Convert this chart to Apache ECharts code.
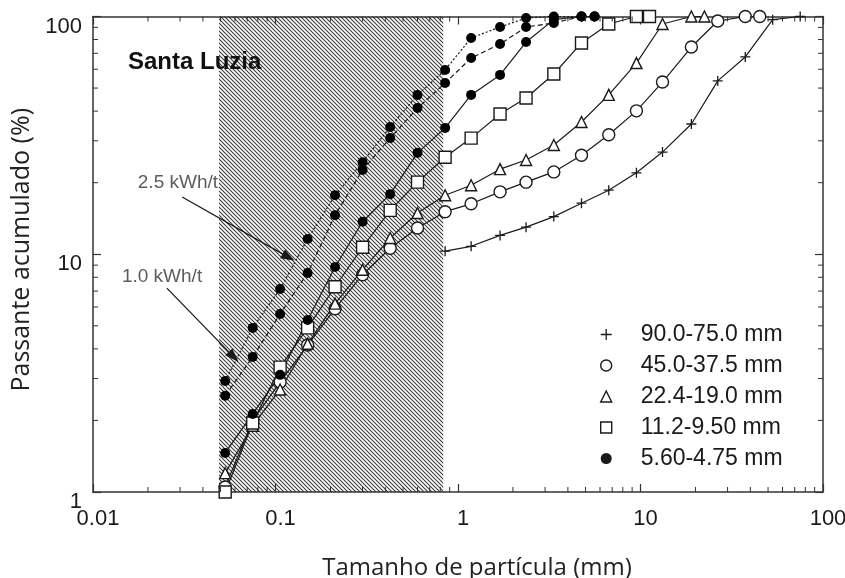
<!DOCTYPE html>
<html><head><meta charset="utf-8">
<script src="https://cdn.jsdelivr.net/npm/echarts@6/dist/echarts.min.js"></script>
<style>html,body{margin:0;padding:0;background:#fff}#c{width:845px;height:578px}</style>
</head><body><div id="c"></div>
<script>
// ---- data (particle size in mm, cumulative passing in %) ----
const plusX = [0.85,1.18,1.7,2.36,3.35,4.75,6.7,9.5,13.2,19.0,26.5,37.5,53.0,75.0];
const plusY = [10.3,10.8,12.0,13.0,14.4,16.4,18.6,22.0,26.9,35.3,53.6,67.6,97,100];

const circX = [0.053,0.075,0.106,0.15,0.212,0.3,0.425,0.6,0.85,1.18,1.7,2.36,3.35,4.75,6.7,9.5,13.2,19.0,26.5,37.5,45.0];
const circY = [1.05,2.0,2.9,4.15,5.9,8.2,10.6,12.9,15.1,16.3,18.3,20.1,22.2,26.1,31.8,40.1,53.0,74.4,95.7,100,100];

const triX = [0.053,0.075,0.106,0.15,0.212,0.3,0.425,0.6,0.85,1.18,1.7,2.36,3.35,4.75,6.7,9.5,13.2,19.0,22.4];
const triY = [1.2,1.9,2.7,4.2,6.2,8.6,11.7,14.9,17.7,19.5,22.8,24.9,28.8,36.0,46.8,63.7,93,100,100];

const sqX = [0.053,0.075,0.106,0.15,0.212,0.3,0.425,0.6,0.85,1.18,1.7,2.36,3.35,4.75,6.7,9.5,11.2];
const sqY = [1.0,1.95,3.35,4.9,7.3,10.7,15.3,20.1,25.6,30.8,38.9,45.4,57.3,77.4,93,100,100];

const dotX = [0.053,0.075,0.106,0.15,0.212,0.3,0.425,0.6,0.85,1.18,1.7,2.36,3.35,4.75,5.6];
const dotY0 = [1.46,2.13,3.11,5.29,8.84,13.7,17.9,26.7,34.0,46.8,56.8,78.1,97,100,100];   // solid line
const dotY10 = [2.54,3.70,5.61,8.34,14.6,22.6,30.8,41.2,52.5,66.9,76.6,90.3,94,100,100]; // 1.0 kWh/t
const dotY25 = [2.93,4.90,7.14,11.6,17.7,24.4,34.3,46.8,59.6,81.2,90.3,98.5,100,100,100]; // 2.5 kWh/t

const legendNames = ['90.0-75.0 mm','45.0-37.5 mm','22.4-19.0 mm','11.2-9.50 mm','5.60-4.75 mm'];
const xTickLabels = ['0.01','0.1','1','10','100'];
const yTickLabels = ['1','10','100'];
const xMinorTicks = [0.02,0.03,0.04,0.05,0.06,0.07,0.08,0.09,0.2,0.3,0.4,0.5,0.6,0.7,0.8,0.9,2,3,4,5,6,7,8,9,20,30,40,50,60,70,80,90];
const yMinorTicks = [2,3,4,5,6,7,8,9,20,30,40,50,60,70,80,90];
const hatchRange = [0.049, 0.83];

const X_MIN = 0.01, X_MAX = 100, Y_MIN = 1, Y_MAX = 100;
const zip = (a, b) => a.map((v, i) => [v, b[i]]);

// hatch pattern
const pc = document.createElement('canvas');
pc.width = 4; pc.height = 4;
const cx = pc.getContext('2d');
cx.fillStyle = '#ffffff'; cx.fillRect(0, 0, 4, 4);
cx.strokeStyle = '#3c3c3c'; cx.lineWidth = 1.1;
cx.beginPath();
cx.moveTo(-1, -1); cx.lineTo(5, 5);
cx.moveTo(3, -1); cx.lineTo(5, 1);
cx.moveTo(-1, 3); cx.lineTo(1, 5);
cx.stroke();

const INK = '#1a1a1a';
const FONT = 'Liberation Sans';
const hollow = { color: '#fff', borderColor: INK, borderWidth: 1.4 };
const plusPath = 'path://M0,5L10,5M5,0L5,10';

function baseAxis(type, pos, show) {
  return {
    type: 'log', logBase: 10, position: pos,
    min: type === 'x' ? X_MIN : Y_MIN, max: type === 'x' ? X_MAX : Y_MAX,
    axisLine: { show: true, onZero: false, lineStyle: { color: '#333', width: 1.5 } },
    axisTick: { show: true, inside: true, length: 8, lineStyle: { color: '#333', width: 1.2 } },
    splitLine: { show: false },
    minorTick: { show: false },
    axisLabel: { show: show }
  };
}

const xBottom = Object.assign(baseAxis('x', 'bottom', true), {
  axisLabel: { show: true, fontFamily: FONT, fontSize: 22, color: INK, margin: 16, padding: [0, 0, 0, 10],
    formatter: v => xTickLabels[Math.round(Math.log10(v)) + 2] },
  name: 'Tamanho de partícula (mm)', nameLocation: 'middle', nameGap: 64,
  nameTextStyle: { fontFamily: 'Open Sans', fontSize: 24, color: '#222', padding: [0, 0, 0, 38] }
});
const xTop = baseAxis('x', 'top', false);
const yLeft = Object.assign(baseAxis('y', 'left', true), {
  axisLabel: { show: true, fontFamily: FONT, fontSize: 22, color: INK, margin: 11,
    verticalAlign: 'top', lineHeight: 20,
    formatter: v => yTickLabels[Math.round(Math.log10(v))] }
});
const yRight = baseAxis('y', 'right', false);

function lineSeries(name, x, y, symbol, size, itemStyle, lineType) {
  return {
    name: name, type: 'line', data: zip(x, y), symbol: symbol, symbolSize: size,
    itemStyle: itemStyle, lineStyle: { color: INK, width: 1.2, type: lineType || 'solid' },
    clip: false, z: 4, emphasis: { disabled: true }
  };
}

const tickStyle = { stroke: '#333', lineWidth: 1 };

const option = {
  animation: false,
  title: {
    text: 'Santa Luzia', left: 123, top: 45,
    textStyle: { fontFamily: FONT, fontSize: 24, fontWeight: 'bold', color: '#111' }
  },
  graphic: [{
    type: 'text', left: 9, top: 108, rotation: Math.PI / 2, silent: true,
    style: { text: 'Passante acumulado (%)', font: '25px "Open Sans"', fill: '#222' }
  }],
  grid: { left: 93, right: 22, top: 16.5, bottom: 86, containLabel: false, outerBoundsMode: 'none' },
  xAxis: [xBottom, xTop],
  yAxis: [yLeft, yRight],
  legend: {
    orient: 'vertical', left: 595, top: 318, itemWidth: 11, itemHeight: 11, itemGap: 8,
    textStyle: { fontFamily: FONT, fontSize: 23, color: INK, lineHeight: 23, padding: [0, 0, 0, 24] },
    selectedMode: false,
    data: [
      { name: legendNames[0], icon: plusPath, itemStyle: { color: 'transparent', borderColor: INK, borderWidth: 1.3 } },
      { name: legendNames[1], icon: 'circle', itemStyle: { color: '#fff', borderColor: INK, borderWidth: 1.4 } },
      { name: legendNames[2], icon: 'triangle', itemStyle: { color: '#fff', borderColor: INK, borderWidth: 1.4 } },
      { name: legendNames[3], icon: 'rect', itemStyle: { color: '#fff', borderColor: INK, borderWidth: 1.4 } },
      { name: legendNames[4], icon: 'circle', itemStyle: { color: INK } }
    ]
  },
  series: [
    { // hatched band
      name: 'band', type: 'line', data: [], z: 0, silent: true,
      markArea: { silent: true, z: 0, itemStyle: { color: { image: pc, repeat: 'repeat' } },
        data: [[{ xAxis: hatchRange[0] }, { xAxis: hatchRange[1] }]] }
    },
    lineSeries(legendNames[0], plusX, plusY, plusPath, 10, { color: 'transparent', borderColor: INK, borderWidth: 1.3 }),
    lineSeries(legendNames[1], circX, circY, 'circle', 12, hollow),
    lineSeries(legendNames[2], triX, triY, 'triangle', 11, hollow),
    lineSeries(legendNames[3], sqX, sqY, 'rect', 12, hollow),
    lineSeries(legendNames[4], dotX, dotY0, 'circle', 10, { color: '#000' }),
    lineSeries('1.0 kWh/t', dotX, dotY10, 'circle', 10, { color: '#000' }, [5, 3]),
    lineSeries('2.5 kWh/t', dotX, dotY25, 'circle', 10, { color: '#000' }, [2, 2]),
    { // minor ticks on x (bottom & top)
      name: 'xminor', type: 'custom', silent: true, clip: false, z: 6,
      data: xMinorTicks.map(v => [v, Y_MIN]),
      renderItem: (p, api) => {
        const b = api.coord([api.value(0), Y_MIN]);
        const t = api.coord([api.value(0), Y_MAX]);
        return { type: 'group', children: [
          { type: 'line', shape: { x1: b[0], y1: b[1], x2: b[0], y2: b[1] - 5 }, style: tickStyle },
          { type: 'line', shape: { x1: t[0], y1: t[1], x2: t[0], y2: t[1] + 5 }, style: tickStyle }
        ] };
      }
    },
    { // minor ticks on y (left & right)
      name: 'yminor', type: 'custom', silent: true, clip: false, z: 6,
      data: yMinorTicks.map(v => [X_MIN, v]),
      renderItem: (p, api) => {
        const l = api.coord([X_MIN, api.value(1)]);
        const r = api.coord([X_MAX, api.value(1)]);
        return { type: 'group', children: [
          { type: 'line', shape: { x1: l[0], y1: l[1], x2: l[0] + 5, y2: l[1] }, style: tickStyle },
          { type: 'line', shape: { x1: r[0], y1: r[1], x2: r[0] - 5, y2: r[1] }, style: tickStyle }
        ] };
      }
    },
    { // annotations
      name: 'notes', type: 'scatter', z: 8, silent: true, symbolSize: 1,
      itemStyle: { color: 'transparent' },
      data: [
        { value: [0.0292, 19.9], label: { show: true, position: 'inside', formatter: '2.5 kWh/t',
            fontFamily: FONT, fontSize: 19, color: '#333' } },
        { value: [0.0239, 8.02], label: { show: true, position: 'inside', formatter: '1.0 kWh/t',
            fontFamily: FONT, fontSize: 19, color: '#333' } }
      ],
      markLine: {
        silent: true, symbol: ['none', 'triangle'], symbolSize: [10, 14],
        label: { show: false },
        lineStyle: { color: INK, width: 1.3, type: 'solid' },
        data: [
          [{ coord: [0.0308, 17.4] }, { coord: [0.118, 9.7] }],
          [{ coord: [0.0254, 7.2], lineStyle: { curveness: -0.12 } }, { coord: [0.059, 3.7] }]
        ]
      }
    }
  ]
};

const chart = echarts.init(document.getElementById('c'), null, { renderer: 'canvas' });
chart.setOption(option);
</script>
</body></html>
